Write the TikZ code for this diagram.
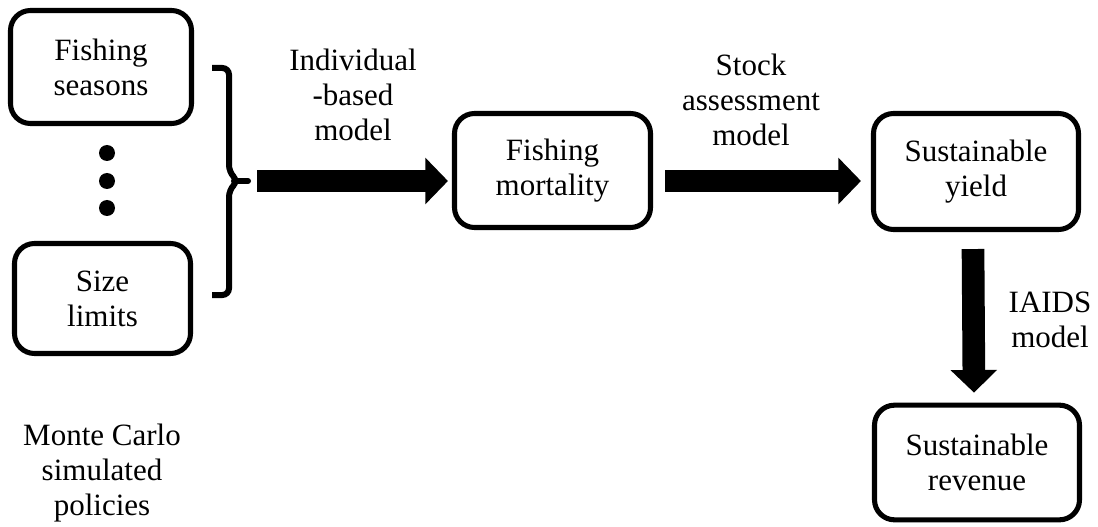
\documentclass[tikz,border=0pt]{standalone}
\usepackage{fontspec}
\setmainfont{Liberation Serif}
\usetikzlibrary{arrows.meta}
\begin{document}
\begin{tikzpicture}[x=0.75pt,y=-0.75pt,
  txt/.style={font=\fontsize{23.25}{26.25}\selectfont},
  box/.style={txt, draw, line width=3.8pt, rounded corners=15pt, align=center, inner sep=0pt},
  lbl/.style={txt, align=center, inner sep=0pt},
  blockarrow/.style={line width=17pt, -{Triangle[length=17pt,width=34pt]}},
  bracketline/.style={line width=4.5pt, rounded corners=5pt},
  dot/.style={fill, circle, inner sep=0pt, minimum size=12pt}
]
\useasboundingbox (0,0) rectangle (1098,527);

\node[box, minimum width=135.75pt, minimum height=84.75pt] (seasons) at (101,67) {Fishing\\seasons};
\node[box, minimum width=132pt, minimum height=82.5pt] (size) at (102.5,298.5) {Size\\limits};
\node[dot] (d1) at (107,153) {};
\node[dot] (d2) at (107,181) {};
\node[dot] (d3) at (107,208) {};

\node[box, minimum width=147pt, minimum height=85.5pt] (mort) at (552.5,170.5) {Fishing\\mortality};
\node[box, minimum width=153.75pt, minimum height=87pt] (yield) at (976,171.5) {Sustainable\\yield};
\node[box, minimum width=153.75pt, minimum height=86pt] (rev) at (977,462.5) {Sustainable\\revenue};

\coordinate (br) at (248,181);
\draw[bracketline] (212,68) -- (229,68) -- (229,172) -- (238,181) -- (229,190) -- (229,295) -- (212,295);
\draw[line width=4.5pt, line cap=round] (234,181) -- (br);

\draw[blockarrow, shorten <=6.75pt] (br) -- ([xshift=-3pt]br -| mort.west);
\draw[blockarrow] ([xshift=9pt]br -| mort.east) -- ([xshift=-7.5pt]br -| yield.west);
\draw[blockarrow] ([xshift=-2.25pt,yshift=-12.75pt]yield.south) -- ([xshift=-2.25pt,yshift=7.5pt]rev.north);

\node[lbl] (ibm) at (353,94.5) {Individual\\-based\\model};
\node[lbl] (sam) at (751,99.5) {Stock\\assessment\\model};
\node[lbl] (iaids) at (1050,319.5) {IAIDS\\model};
\node[lbl] (mc) at (102,473) {Monte Carlo\\simulated\\policies};
\end{tikzpicture}
\end{document}
